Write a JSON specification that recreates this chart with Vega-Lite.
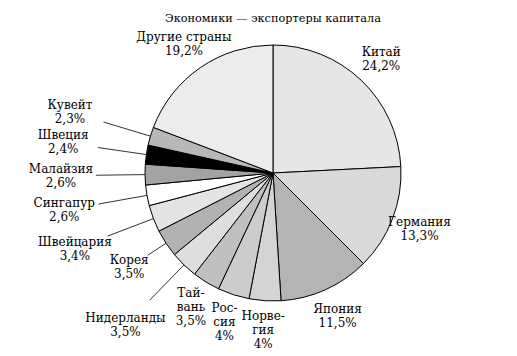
{
  "$schema": "https://vega.github.io/schema/vega-lite/v6.json",
  "width": 488,
  "height": 286,
  "autosize": {"type": "none"},
  "padding": {"left": 29, "top": 30, "right": 0, "bottom": 40},
  "background": "white",
  "title": {"text": "Экономики — экспортеры капитала", "font": "DejaVu Serif", "fontSize": 11.3, "fontWeight": "normal", "color": "black", "anchor": "middle", "frame": "group", "offset": 6},
  "config": {"view": {"stroke": null}},
  "data": {"values": [
    {"country": "Китай", "pct": 24.2, "label": "Китай\n24,2%", "tier": "none"},
    {"country": "Германия", "pct": 13.3, "label": "Германия\n13,3%", "tier": "none"},
    {"country": "Япония", "pct": 11.5, "label": "Япония\n11,5%", "tier": "none"},
    {"country": "Норвегия", "pct": 4, "label": "Норве-\nгия\n4%", "tier": "none"},
    {"country": "Россия", "pct": 4, "label": "Рос-\nсия\n4%", "tier": "none"},
    {"country": "Тайвань", "pct": 3.5, "label": "Тай-\nвань\n3,5%", "tier": "none"},
    {"country": "Нидерланды", "pct": 3.5, "label": "Нидерланды\n3,5%", "tier": "far"},
    {"country": "Корея", "pct": 3.5, "label": "Корея\n3,5%", "tier": "near"},
    {"country": "Швейцария", "pct": 3.4, "label": "Швейцария\n3,4%", "tier": "far"},
    {"country": "Сингапур", "pct": 2.6, "label": "Сингапур\n2,6%", "tier": "far"},
    {"country": "Малайзия", "pct": 2.6, "label": "Малайзия\n2,6%", "tier": "far"},
    {"country": "Швеция", "pct": 2.4, "label": "Швеция\n2,4%", "tier": "far"},
    {"country": "Кувейт", "pct": 2.3, "label": "Кувейт\n2,3%", "tier": "far"},
    {"country": "Другие страны", "pct": 19.2, "label": "Другие страны\n19,2%", "tier": "none"}
  ]},
  "transform": [
    {"window": [{"op": "row_number", "as": "rank"}, {"op": "sum", "field": "pct", "as": "cum"}], "frame": [null, 0]},
    {"calculate": "(datum.cum - datum.pct / 2) / 100 * 2 * PI", "as": "ang"},
    {"calculate": "datum.tier == 'far' ? 212 : (datum.tier == 'near' ? 172 : 157)", "as": "lr"},
    {"calculate": "datum.tier == 'far' ? 177 : 150", "as": "le"},
    {"calculate": "length(split(datum.label, '\\n'))", "as": "nl"},
    {"calculate": "datum.lr * sin(datum.ang)", "as": "lx"},
    {"calculate": "datum.lr * cos(datum.ang) + (datum.nl - 1) * 7", "as": "ly"},
    {"calculate": "128 * sin(datum.ang)", "as": "ex1"},
    {"calculate": "128 * cos(datum.ang)", "as": "ey1"},
    {"calculate": "datum.le * sin(datum.ang)", "as": "ex2"},
    {"calculate": "datum.le * cos(datum.ang)", "as": "ey2"}
  ],
  "layer": [
    {
      "mark": {"type": "arc", "outerRadius": 128, "stroke": "black", "strokeWidth": 1},
      "encoding": {
        "theta": {"field": "pct", "type": "quantitative", "stack": true},
        "order": {"field": "rank", "type": "quantitative"},
        "color": {"field": "country", "type": "nominal", "legend": null,
          "scale": {
            "domain": ["Китай", "Германия", "Япония", "Норвегия", "Россия", "Тайвань", "Нидерланды", "Корея", "Швейцария", "Сингапур", "Малайзия", "Швеция", "Кувейт", "Другие страны"],
            "range": ["#e6e6e6", "#dadada", "#b4b4b4", "#d4d4d4", "#cccccc", "#c0c0c0", "#dedede", "#b2b2b2", "#e4e4e4", "#ffffff", "#a3a3a3", "#000000", "#b8b8b8", "#ececec"]
          }
        }
      }
    },
    {
      "transform": [{"filter": "datum.tier != 'none'"}],
      "mark": {"type": "rule", "stroke": "black", "strokeWidth": 0.8},
      "encoding": {
        "x": {"field": "ex1", "type": "quantitative", "scale": {"domain": [-244, 244], "nice": false, "zero": false}, "axis": null},
        "y": {"field": "ey1", "type": "quantitative", "scale": {"domain": [-143, 143], "nice": false, "zero": false}, "axis": null},
        "x2": {"field": "ex2"},
        "y2": {"field": "ey2"}
      }
    },
    {
      "mark": {"type": "text", "lineBreak": "\n", "fontSize": 12, "font": "DejaVu Serif", "align": "center", "baseline": "middle", "lineHeight": 14, "color": "black"},
      "encoding": {
        "x": {"field": "lx", "type": "quantitative", "scale": {"domain": [-244, 244], "nice": false, "zero": false}, "axis": null},
        "y": {"field": "ly", "type": "quantitative", "scale": {"domain": [-143, 143], "nice": false, "zero": false}, "axis": null},
        "text": {"field": "label"}
      }
    }
  ]
}
